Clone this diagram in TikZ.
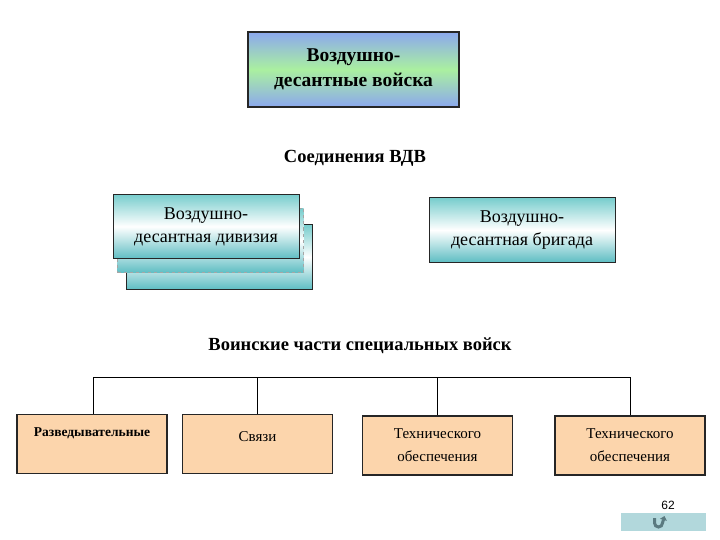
\documentclass[tikz,border=0pt]{standalone}
\usepackage{fontspec}
\setmainfont{Liberation Serif}
\setsansfont{Liberation Sans}
\usetikzlibrary{arrows.meta, positioning}

\definecolor{hdblue}{RGB}{140,168,238}
\definecolor{hdgreen}{RGB}{170,240,160}
\definecolor{tealtop}{RGB}{120,205,205}
\definecolor{tealbot}{RGB}{95,190,195}
\definecolor{peach}{RGB}{252,213,172}
\definecolor{navfill}{RGB}{178,216,220}
\definecolor{navicon}{RGB}{90,122,128}

\begin{document}
\begin{tikzpicture}[x=1pt, y=-1pt,
        topbox/.style={rectangle, draw=black!85, line width=1.3pt, top color=hdblue, bottom color=hdblue, middle color=hdgreen, minimum width=211pt, minimum height=75pt, inner sep=0pt, align=center, font=\fontsize{19.5}{25}\selectfont\bfseries},
        unitbox/.style={rectangle, draw=black!85, line width=1pt, top color=tealtop, bottom color=tealbot, middle color=white, minimum width=186pt, minimum height=64pt, inner sep=0pt, align=center, font=\fontsize{18}{23}\selectfont},
        ghostbox/.style={unitbox, draw=gray!70, dashed, line width=0.8pt},
        partbox/.style={rectangle, draw=black!85, line width=1.2pt, fill=peach, minimum width=150pt, minimum height=59pt, inner sep=0pt, align=center, font=\fontsize{15}{23}\selectfont},
        heading/.style={font=\fontsize{18.5}{20}\selectfont\bfseries, inner sep=0pt},
        wire/.style={draw=black, line width=0.8pt}
    ]
        \useasboundingbox (0,0) rectangle (720,540);

        % --- TOP ---
        \node[topbox] (vdv) at (353.5,69.5) {Воздушно-\\десантные войска};
        \node[heading] (soed) at (355,158) {Соединения ВДВ};

        % --- DIVISION STACK ---
        \node[unitbox] (div3) at (219.5,257) {};
        \node[ghostbox] (div2) at (210.5,240.5) {};
        \node[unitbox] (div) at (206,226.5) {Воздушно-\\десантная дивизия};

        % --- BRIGADE ---
        \node[unitbox] (brig) at (522,230) {Воздушно-\\десантная бригада};

        % --- SPECIAL TROOPS ---
        \node[heading] (spec) at (360,346) {Воинские части специальных войск};

        \node[partbox, font=\fontsize{13.5}{23}\selectfont\bfseries] (razv) at (92,444) {Разведывательные\\\mbox{}};
        \node[partbox] (svyaz) at (257.5,444) {Связи\\[-8pt]\mbox{}};
        \node[partbox] (tech1) at (437.5,445.5) {Технического\\обеспечения};
        \node[partbox] (tech2) at (630,445.5) {Технического\\обеспечения};

        % --- TREE LINES ---
        \coordinate (busL) at (93,377);
        \coordinate (busR) at (630,377);
        \draw[wire] (busL) -- (busR);
        \draw[wire] (busL) -- (razv.north -| busL);
        \draw[wire] (svyaz.north) -- (svyaz.north |- busL);
        \draw[wire] (tech1.north) -- (tech1.north |- busL);
        \draw[wire] (busR) -- (tech2.north -| busR);

        % --- PAGE NUMBER ---
        \node[font=\sffamily\fontsize{12}{12}\selectfont, inner sep=0pt] (pnum) at (668,505) {62};
        \node[rectangle, fill=navfill, minimum width=85pt, minimum height=18pt, inner sep=0pt] (nav) at (663.5,522) {};
        \coordinate (navtip) at ([xshift=1pt, yshift=6pt]nav.center);
        \draw[navicon, line width=3pt, -{Triangle[length=4pt, width=7pt]}] ([xshift=-9pt, yshift=4pt]nav.center) -- ([xshift=-9pt, yshift=-1pt]nav.center) arc[start angle=180, end angle=360, radius=4pt] -- (navtip);
    \end{tikzpicture}
\end{document}
